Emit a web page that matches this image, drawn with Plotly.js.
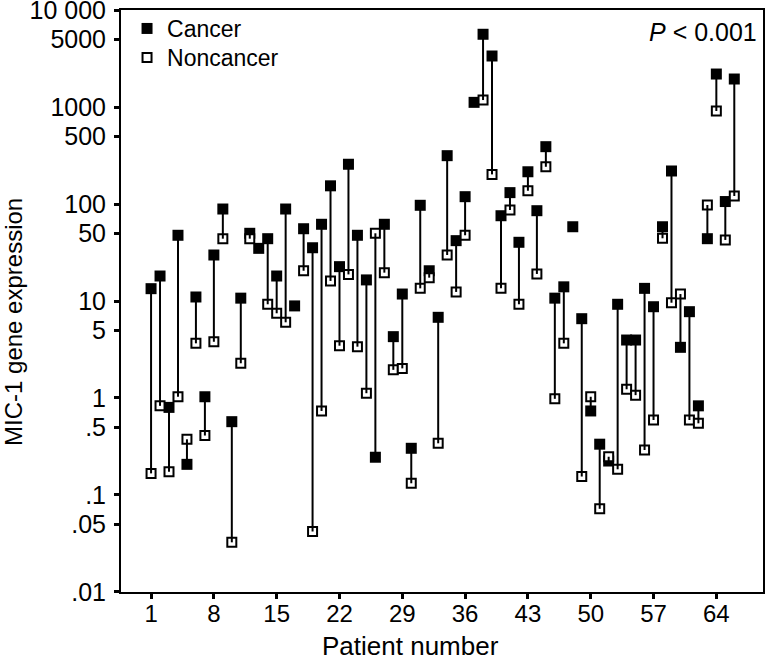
<!DOCTYPE html>
<html>
<head>
<meta charset="utf-8">
<script src="https://cdn.plot.ly/plotly-3.0.1.min.js"></script>
<style>
  html, body { margin: 0; padding: 0; background: #fff; }
  #chart { width: 767px; height: 662px; }
</style>
</head>
<body>
<div id="chart"></div>
<script>
// Patient numbers 1..66
const patients = [1,2,3,4,5,6,7,8,9,10,11,12,13,14,15,16,17,18,19,20,21,22,23,24,25,26,27,28,29,30,31,32,33,34,35,36,37,38,39,40,41,42,43,44,45,46,47,48,49,50,51,52,53,54,55,56,57,58,59,60,61,62,63,64,65,66];

// MIC-1 gene expression, cancer tissue
const cancer = [13.4,18.1,0.8,47.6,0.207,11.0,1.03,29.8,88.8,0.57,
                10.7,49.9,34.9,43.9,18.1,88.8,8.9,55.6,35.4,61.8,
                154,22.6,257,47.6,16.5,0.245,61.8,4.29,11.8,0.303,
                97,20.5,6.79,315,41.9,119,1117,5623,3357,75.7,
                131,40.3,215,85.3,390,10.7,14.0,58.3,6.57,0.735,
                0.334,0.224,9.25,3.96,3.96,13.5,8.73,58.3,219,3.33,
                7.76,0.83,43.9,2188,106,1944];

// MIC-1 gene expression, noncancer tissue (null = not shown)
const noncancer = [0.167,0.83,0.174,1.03,0.375,3.66,0.41,3.8,43.9,0.0325,
                   2.28,43.9,null,9.25,7.47,6.03,null,20.5,0.042,0.735,
                   16.1,3.46,18.8,3.38,1.12,49.9,19.6,1.95,2.02,0.132,
                   13.5,17.4,0.341,29.8,12.4,47.6,null,1180,202,13.5,
                   86.7,9.25,137,19.0,242,0.98,3.66,null,0.155,1.03,
                   0.072,0.248,0.184,1.23,1.07,0.291,0.593,44.3,9.6,11.8,
                   0.593,0.548,97.7,910,42.6,121];

const xTickVals = [1,8,15,22,29,36,43,50,57,64];
const yTickVals = [0.01,0.05,0.1,0.5,1,5,10,50,100,500,1000,5000,10000];
const yTickText = ['.01','.05','.1','.5','1','5','10','50','100','500','1000','5000','10 000'];

// connecting segments built from the data arrays
const segX = [], segY = [];
patients.forEach((p, i) => {
  if (cancer[i] != null && noncancer[i] != null) {
    segX.push(p, p, null);
    segY.push(cancer[i], noncancer[i], null);
  }
});

const FONT = 'Liberation Sans, Arial, Helvetica, sans-serif';

const traces = [
  {
    x: patients, y: cancer, type: 'scatter', mode: 'markers', name: 'Cancer',
    legend: 'legend',
    marker: { symbol: 'square', size: 11, color: '#000', line: { width: 0 } },
    cliponaxis: false
  },
  {
    x: patients, y: noncancer, type: 'scatter', mode: 'markers', name: 'Noncancer',
    legend: 'legend2',
    marker: { symbol: 'square', size: 9, color: '#fff', line: { width: 2, color: '#000' } },
    cliponaxis: false
  },
  {
    x: segX, y: segY, type: 'scatter', mode: 'lines', showlegend: false,
    line: { color: '#000', width: 2 }, hoverinfo: 'skip'
  }
];

const legendCommon = {
  xanchor: 'left', yanchor: 'top',
  bgcolor: 'rgba(0,0,0,0)', borderwidth: 0,
  font: { family: FONT, size: 23, color: '#000' }
};

const layout = {
  width: 767, height: 662,
  margin: { l: 121, r: 4, t: 10, b: 70 },
  paper_bgcolor: '#fff', plot_bgcolor: '#fff',
  font: { family: FONT, color: '#000', size: 24 },
  showlegend: true,
  legend: Object.assign({ x: 0.0094, y: (592 - 7) / 582 }, legendCommon),
  legend2: Object.assign({ x: 0.0094, y: (592 - 36) / 582 }, legendCommon),
  xaxis: {
    range: [-2.35, 69.2],
    tickmode: 'array', tickvals: xTickVals,
    ticks: 'outside', ticklen: 5, tickwidth: 3, tickcolor: '#000',
    showline: true, linecolor: '#000', linewidth: 2, mirror: true,
    showgrid: false, zeroline: false,
    tickfont: { family: FONT, size: 24, color: '#000' },
    ticklabelstandoff: -6
  },
  yaxis: {
    type: 'log', range: [-2.0002, 4.0002],
    tickmode: 'array', tickvals: yTickVals, ticktext: yTickText,
    ticks: 'outside', ticklen: 5, tickwidth: 3, tickcolor: '#000',
    showline: true, linecolor: '#000', linewidth: 2, mirror: true,
    showgrid: false, zeroline: false,
    tickfont: { family: FONT, size: 25, color: '#000' },
    ticklabelstandoff: 3,
    ticklabeloverflow: 'allow'
  },
  annotations: [
    {
      text: '<i>P</i> < 0.001', xref: 'paper', yref: 'paper',
      x: 0.993, y: 0.962, xanchor: 'right', yanchor: 'middle',
      showarrow: false, font: { family: FONT, size: 25, color: '#000' }
    },
    {
      text: 'Patient number', xref: 'paper', yref: 'paper',
      x: (410 - 121) / 641.7, y: (592 - 646) / 582, xanchor: 'center', yanchor: 'middle',
      showarrow: false, font: { family: FONT, size: 26, color: '#000' }
    },
    {
      text: 'MIC-1 gene expression', xref: 'paper', yref: 'paper',
      x: (13 - 121) / 641.7, y: (592 - 322) / 582, xanchor: 'center', yanchor: 'middle',
      textangle: -90,
      showarrow: false, font: { family: FONT, size: 24, color: '#000' }
    }
  ]
};

Plotly.newPlot('chart', traces, layout, { displayModeBar: false, staticPlot: true });
</script>
</body>
</html>
